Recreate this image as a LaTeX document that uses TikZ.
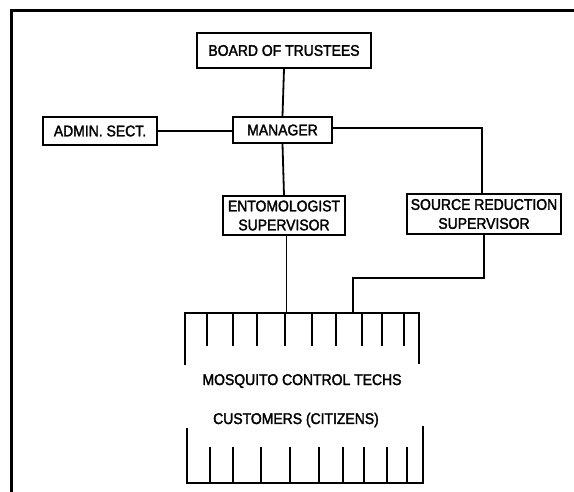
\documentclass[tikz,border=0pt]{standalone}
\usepackage{fontspec}
\newfontfamily\cf[FakeStretch=0.9,FakeBold=2]{Liberation Sans}
\begin{document}
\begin{tikzpicture}[x=1pt,y=-1pt,
  box/.style={draw,line width=2pt,inner sep=1pt,align=center,font=\cf\fontsize{15.5}{19}\selectfont},
  conn/.style={line width=1.8pt},
  thin/.style={line width=1pt},
  comb/.style={line width=1.5pt},
  lbl/.style={inner sep=0pt,anchor=base,font=\cf\fontsize{15.5}{19}\selectfont}]
\useasboundingbox (0,0) rectangle (574,492);
% frame
\draw[line width=3pt] (11,492) -- (11,10.5) -- (574,10.5);
% boxes
\node[box,minimum width=174pt,minimum height=35pt] (board) at (284,50.5) {BOARD OF TRUSTEES};
\node[box,minimum width=99pt,minimum height=26pt] (manager) at (282.5,130) {MANAGER};
\node[box,minimum width=114pt,minimum height=28pt] (admin) at (100,131) {ADMIN. SECT.};
\node[box,minimum width=122pt,minimum height=39pt] (ento) at (284,215.5) {ENTOMOLOGIST\\SUPERVISOR};
\node[box,minimum width=154pt,minimum height=40pt] (source) at (484,214) {SOURCE REDUCTION\\SUPERVISOR};
% connectors
\draw[conn] (board.south) -- (manager.north);
\draw[conn] (admin.east) -- (admin.east -| manager.west);
\draw[conn] ([yshift=2pt]manager.east) -| ([xshift=-2pt]source.north);
\draw[conn] (manager.south) -- (ento.north);
\coordinate (combA) at (286,313);
\coordinate (combB) at (353,313);
\coordinate (bend) at (484,278);
\draw[thin] (ento.south -| combA) -- (combA);
\draw[conn] (source.south) -- (bend) -| (combB);
% top comb
\draw[comb] (185,365) -- (185,313) -- (419,313) -- (419,364);
\foreach \x in {207,233,257,285,312,336,362,382,404}
  \draw[comb] (\x,313) -- (\x,346);
% bottom comb
\draw[comb] (187,428) -- (187,483) -- (423,483) -- (423,426);
\foreach \x in {210,233,261,290,319,343,364,387,407}
  \draw[comb] (\x,447) -- (\x,483);
% labels
\node[lbl] (techs) at (302,385) {MOSQUITO CONTROL TECHS};
\node[lbl] (cust) at (296,424) {CUSTOMERS (CITIZENS)};
\end{tikzpicture}
\end{document}
